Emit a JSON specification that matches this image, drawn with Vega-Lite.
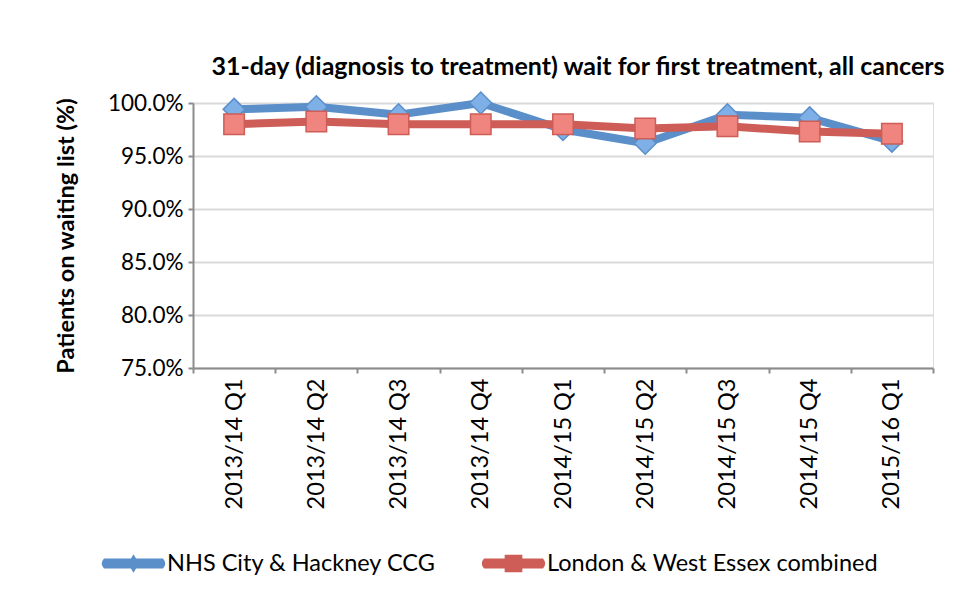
{
  "$schema": "https://vega.github.io/schema/vega-lite/v6.json",
  "autosize": "none",
  "width": 740,
  "height": 265,
  "padding": {"left": 193, "top": 103, "right": 26, "bottom": 235},
  "background": "white",
  "title": {
    "text": "31-day (diagnosis to treatment) wait for first treatment, all cancers",
    "font": "Lato",
    "fontSize": 25,
    "fontWeight": "bold",
    "color": "#000000",
    "anchor": "middle",
    "dx": 15,
    "offset": 9
  },
  "data": {
    "values": [
      {"quarter": "2013/14 Q1", "series": "NHS City & Hackney CCG", "value": 99.4},
      {"quarter": "2013/14 Q2", "series": "NHS City & Hackney CCG", "value": 99.65},
      {"quarter": "2013/14 Q3", "series": "NHS City & Hackney CCG", "value": 98.9},
      {"quarter": "2013/14 Q4", "series": "NHS City & Hackney CCG", "value": 100.0},
      {"quarter": "2014/15 Q1", "series": "NHS City & Hackney CCG", "value": 97.5},
      {"quarter": "2014/15 Q2", "series": "NHS City & Hackney CCG", "value": 96.2},
      {"quarter": "2014/15 Q3", "series": "NHS City & Hackney CCG", "value": 98.9},
      {"quarter": "2014/15 Q4", "series": "NHS City & Hackney CCG", "value": 98.6},
      {"quarter": "2015/16 Q1", "series": "NHS City & Hackney CCG", "value": 96.4},
      {"quarter": "2013/14 Q1", "series": "London & West Essex combined", "value": 98.0},
      {"quarter": "2013/14 Q2", "series": "London & West Essex combined", "value": 98.25},
      {"quarter": "2013/14 Q3", "series": "London & West Essex combined", "value": 98.0},
      {"quarter": "2013/14 Q4", "series": "London & West Essex combined", "value": 98.0},
      {"quarter": "2014/15 Q1", "series": "London & West Essex combined", "value": 98.0},
      {"quarter": "2014/15 Q2", "series": "London & West Essex combined", "value": 97.6},
      {"quarter": "2014/15 Q3", "series": "London & West Essex combined", "value": 97.8},
      {"quarter": "2014/15 Q4", "series": "London & West Essex combined", "value": 97.3},
      {"quarter": "2015/16 Q1", "series": "London & West Essex combined", "value": 97.1}
    ]
  },
  "encoding": {
    "x": {
      "field": "quarter",
      "type": "nominal",
      "sort": null,
      "scale": {"type": "band", "paddingInner": 0, "paddingOuter": 0},
      "axis": {
        "title": null,
        "labelAngle": 270,
        "labelAlign": "right",
        "labelBaseline": "middle",
        "labelFont": "Lato",
        "labelFontSize": 23.5,
        "labelColor": "#000000",
        "labelPadding": 5,
        "tickBand": "extent",
        "tickSize": 5,
        "tickColor": "#8c8c8c",
        "tickWidth": 2,
        "domainColor": "#8c8c8c",
        "domainWidth": 2,
        "grid": false
      }
    },
    "y": {
      "field": "value",
      "type": "quantitative",
      "scale": {"domain": [75, 100], "nice": false, "zero": false},
      "axis": {
        "title": "Patients on waiting list (%)",
        "titleFont": "Lato",
        "titleFontSize": 23.5,
        "titleFontWeight": "bold",
        "titleColor": "#000000",
        "titlePadding": 29,
        "values": [75, 80, 85, 90, 95, 100],
        "labelExpr": "format(datum.value, '.1f') + '%'",
        "labelFont": "Lato",
        "labelFontSize": 22.5,
        "labelColor": "#000000",
        "labelPadding": 5,
        "tickSize": 5,
        "tickColor": "#8c8c8c",
        "tickWidth": 2,
        "domainColor": "#8c8c8c",
        "domainWidth": 2,
        "gridColor": "#d9d9d9",
        "gridWidth": 2
      }
    }
  },
  "layer": [
    {
      "transform": [{"filter": "datum.series === 'NHS City & Hackney CCG'"}],
      "mark": {"type": "line", "strokeWidth": 8, "color": "#5b8fca", "strokeCap": "round", "strokeJoin": "round"},
      "encoding": {}
    },
    {
      "transform": [{"filter": "datum.series === 'NHS City & Hackney CCG'"}],
      "mark": {"type": "point", "shape": "diamond", "size": 480, "filled": true, "fill": "#7eafe6", "stroke": "#5b8fca", "strokeWidth": 1.5, "opacity": 1}
    },
    {
      "transform": [{"filter": "datum.series === 'London & West Essex combined'"}],
      "mark": {"type": "line", "strokeWidth": 8, "color": "#cd5d56", "strokeCap": "round", "strokeJoin": "round"},
      "encoding": {}
    },
    {
      "transform": [{"filter": "datum.series === 'London & West Essex combined'"}],
      "mark": {"type": "point", "shape": "square", "size": 420, "filled": true, "fill": "#f0857f", "stroke": "#cd5d56", "strokeWidth": 1.5, "opacity": 1}
    },
    {
      "transform": [{"filter": "false"}],
      "mark": {"type": "point", "filled": true, "opacity": 1},
      "encoding": {
        "color": {
          "field": "series",
          "type": "nominal",
          "scale": {"domain": ["NHS City & Hackney CCG", "London & West Essex combined"], "range": ["#5b8fca", "#cd5d56"]},
          "legend": {
            "title": null,
            "orient": "none",
            "legendX": -90,
            "legendY": 430,
            "direction": "horizontal",
            "columns": 2,
            "columnPadding": 45,
            "symbolSize": 3481,
            "labelFont": "Lato",
            "labelFontSize": 23.5,
            "labelColor": "#000000",
            "labelOffset": 3,
            "labelLimit": 0
          }
        },
        "shape": {
          "field": "series",
          "type": "nominal",
          "scale": {"domain": ["NHS City & Hackney CCG", "London & West Essex combined"], "range": ["M-1,-0.17 L1,-0.17 Q1.15,0 1,0.17 L-1,0.17 Q-1.15,0 -1,-0.17 Z M0,-0.31 L0.19,0 L0,0.31 L-0.19,0 Z", "M-1,-0.17 L1,-0.17 Q1.15,0 1,0.17 L-1,0.17 Q-1.15,0 -1,-0.17 Z M-0.3,-0.3 L0.3,-0.3 L0.3,0.3 L-0.3,0.3 Z"]},
          "legend": {
            "title": null,
            "orient": "none",
            "legendX": -90,
            "legendY": 430,
            "direction": "horizontal",
            "columns": 2,
            "columnPadding": 45,
            "symbolSize": 3481,
            "labelFont": "Lato",
            "labelFontSize": 23.5,
            "labelColor": "#000000",
            "labelOffset": 3,
            "labelLimit": 0
          }
        }
      }
    }
  ]
}
